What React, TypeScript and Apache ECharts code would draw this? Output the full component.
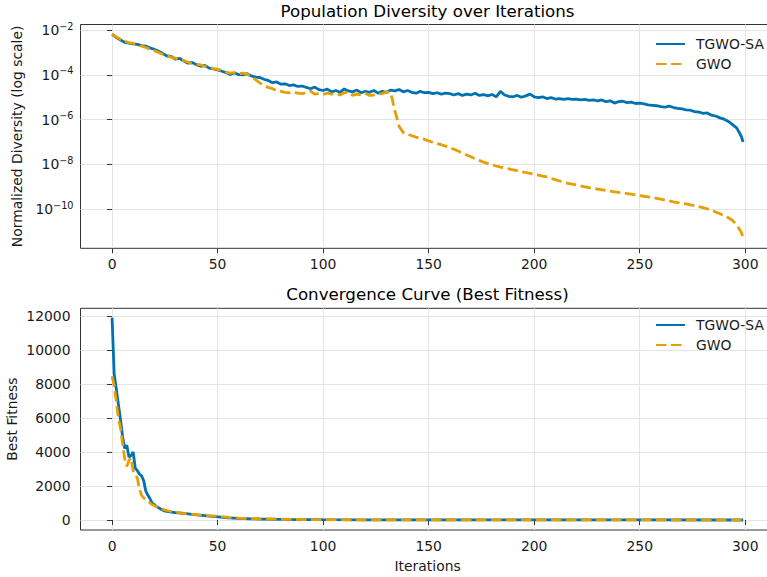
import React, { useEffect, useRef } from "react";
import * as echarts from "echarts";

// Iteration grid for the diversity curves (every 2nd iteration + last one)
const DIV_ITER: number[] = Array.from({ length: 150 }, (_, k) => 2 * k).concat([299]);

// log10 of normalized diversity
const tgwoDivLog10: number[] = [
  -2.19, -2.33, -2.45, -2.55, -2.58, -2.62, -2.64, -2.7, -2.72, -2.8,
  -2.86, -2.95, -3.04, -3.16, -3.18, -3.3, -3.27, -3.38, -3.48, -3.45,
  -3.55, -3.62, -3.58, -3.7, -3.74, -3.78, -3.84, -3.9, -3.98, -3.92,
  -3.99, -4.0, -3.95, -4.05, -4.1, -4.12, -4.2, -4.25, -4.35, -4.32,
  -4.42, -4.4, -4.48, -4.45, -4.52, -4.5, -4.56, -4.62, -4.55, -4.66,
  -4.7, -4.64, -4.76, -4.7, -4.78, -4.63, -4.72, -4.76, -4.68, -4.8,
  -4.74, -4.78, -4.7, -4.82, -4.74, -4.78, -4.68, -4.72, -4.66, -4.76,
  -4.7, -4.78, -4.82, -4.74, -4.8, -4.78, -4.84, -4.8, -4.86, -4.82,
  -4.84, -4.9, -4.84, -4.92, -4.86, -4.9, -4.82, -4.92, -4.88, -4.94,
  -4.88, -4.98, -4.74, -4.9, -4.96, -4.98, -4.92, -5.0, -4.94, -4.86,
  -4.98, -5.02, -4.98, -5.06, -5.02, -5.08, -5.06, -5.1, -5.06, -5.1,
  -5.08, -5.12, -5.1, -5.14, -5.12, -5.16, -5.12, -5.2, -5.16, -5.26,
  -5.2, -5.18, -5.24, -5.22, -5.28, -5.26, -5.3, -5.34, -5.36, -5.38,
  -5.42, -5.44, -5.4, -5.46, -5.5, -5.52, -5.56, -5.58, -5.64, -5.66,
  -5.72, -5.7, -5.8, -5.84, -5.92, -5.98, -6.08, -6.22, -6.38, -6.72,
  -7.0,
];

const gwoDivLog10: number[] = [
  -2.19, -2.3, -2.42, -2.5, -2.56, -2.6, -2.66, -2.72, -2.78, -2.86,
  -2.92, -3.0, -3.08, -3.12, -3.22, -3.26, -3.32, -3.36, -3.44, -3.5,
  -3.52, -3.56, -3.62, -3.66, -3.72, -3.76, -3.8, -3.88, -3.92, -3.9,
  -3.96, -3.92, -3.98, -4.06, -4.22, -4.36, -4.48, -4.56, -4.62, -4.7,
  -4.74, -4.78, -4.8, -4.78, -4.82, -4.84, -4.8, -4.72, -4.86, -4.84,
  -4.88, -4.82, -4.86, -4.84, -4.9, -4.8, -4.76, -4.92, -4.86, -4.9,
  -4.82, -4.92, -4.9, -4.86, -4.84, -4.76, -4.78, -5.6, -6.3, -6.58,
  -6.64, -6.72, -6.78, -6.83, -6.88, -6.95, -7.01, -7.07, -7.12, -7.18,
  -7.25, -7.32, -7.4, -7.5, -7.58, -7.66, -7.74, -7.82, -7.9, -7.96,
  -8.02, -8.07, -8.12, -8.16, -8.2, -8.24, -8.28, -8.32, -8.36, -8.4,
  -8.44, -8.48, -8.52, -8.56, -8.62, -8.68, -8.74, -8.8, -8.84, -8.88,
  -8.92, -8.96, -9.0, -9.04, -9.07, -9.1, -9.13, -9.16, -9.19, -9.22,
  -9.25, -9.27, -9.3, -9.33, -9.36, -9.39, -9.42, -9.45, -9.48, -9.51,
  -9.55, -9.59, -9.63, -9.67, -9.7, -9.73, -9.76, -9.8, -9.84, -9.88,
  -9.93, -9.98, -10.04, -10.12, -10.2, -10.28, -10.38, -10.5, -10.7, -11.0,
  -11.25,
];

// Convergence curve (best fitness)
const FIT_ITER: number[] = [
  0, 1, 2, 3, 4, 5, 6, 7, 8, 9, 10, 11, 12, 13, 14, 15, 16, 17, 18, 19, 20,
  21, 22, 23, 24, 25, 26, 27, 28, 29, 30, 35, 40, 45, 50, 55, 60, 65, 70, 80,
  90, 100, 120, 150, 200, 250, 299,
];
const tgwoFitness: number[] = [
  11900, 8600, 7700, 6800, 5900, 4900, 4200, 4400, 3700, 3800, 4000, 3050,
  2900, 2700, 2600, 2300, 1700, 1450, 1250, 1000, 900, 800, 730, 650, 580, 530,
  510, 490, 470, 450, 430, 370, 300, 240, 190, 130, 95, 75, 60, 40, 28, 20, 12,
  8, 5, 3, 2,
];
const gwoFitness: number[] = [
  8450, 7900, 7000, 6000, 5400, 4500, 3600, 3150, 3500, 3650, 2900, 2700, 2450,
  1800, 1450, 1300, 1200, 1100, 1000, 900, 850, 800, 760, 700, 640, 590, 560,
  530, 500, 470, 450, 380, 320, 260, 220, 150, 110, 80, 65, 45, 30, 22, 14, 9,
  6, 4, 3,
];

const X_TICKS = [0, 50, 100, 150, 200, 250, 300];
const DIV_TICKS = [1e-10, 1e-8, 1e-6, 1e-4, 1e-2];
const FIT_TICKS = [0, 2000, 4000, 6000, 8000, 10000, 12000];

const SERIES_NAMES = ["TGWO-SA", "GWO"];
const BLUE = "#0072B2";
const ORANGE = "#E69F00";
const FONT = "DejaVu Sans";
const TXT = "#1a1a1a";
const SPINE = "#333333";
const GRIDC = "#e4e4e4";

export default function App() {
  const ref = useRef<HTMLDivElement>(null);
  useEffect(() => {
    if (!ref.current) return;
    const chart = echarts.init(ref.current, null, { renderer: "svg" });

    const xAxisBase = (gridIndex: number, withName: boolean) => ({
      type: "value",
      gridIndex,
      min: -14.95,
      max: 313.95,
      axisLine: { show: false },
      axisTick: { show: true, length: 5, lineStyle: { color: SPINE, width: 1 }, customValues: X_TICKS },
      axisLabel: {
        show: true,
        customValues: X_TICKS,
        margin: 9,
        fontSize: 13.9,
        fontFamily: FONT,
        color: TXT,
        formatter: (v: number) => String(v),
      },
      splitLine: { show: true, lineStyle: { color: GRIDC, width: 1 } },
      name: withName ? "Iterations" : "",
      nameLocation: "middle",
      nameGap: 29,
      nameMoveOverlap: false,
      nameTextStyle: { fontSize: 13.9, fontFamily: FONT, color: TXT },
    });

    const supFormatter = (v: number) => {
      const e = Math.round(Math.log10(v));
      return `{b|10}{s|${e < 0 ? "\u2212" : ""}${Math.abs(e)}}`;
    };

    const legendBase = (top: number) => ({
      data: SERIES_NAMES,
      orient: "vertical",
      left: 655,
      top,
      padding: 0,
      itemWidth: 29,
      itemHeight: 14,
      itemGap: 6,
      selectedMode: false,
      itemStyle: { opacity: 0 },
      textStyle: { fontSize: 13.9, fontFamily: FONT, color: TXT, padding: [0, 0, 0, 6] },
    });

    const option: any = {
      animation: false,
      backgroundColor: "#ffffff",
      textStyle: { fontFamily: FONT },
      grid: [
        { left: 80.5, top: 24.5, width: 694.2, height: 223.8, show: true, borderColor: SPINE, borderWidth: 1, backgroundColor: "transparent", outerBoundsMode: "none", containLabel: false },
        { left: 80.5, top: 308.3, width: 694.2, height: 221.7, show: true, borderColor: SPINE, borderWidth: 1, backgroundColor: "transparent", outerBoundsMode: "none", containLabel: false },
      ],
      xAxis: [xAxisBase(0, false), xAxisBase(1, true)],
      yAxis: [
        {
          type: "log",
          logBase: 10,
          gridIndex: 0,
          min: Math.pow(10, -11.743),
          max: Math.pow(10, -1.754),
          axisLine: { show: false },
          axisTick: { show: true, length: 5, lineStyle: { color: SPINE, width: 1 }, customValues: DIV_TICKS },
          axisLabel: {
            show: true,
            customValues: DIV_TICKS,
            margin: 7,
            formatter: supFormatter,
            rich: {
              b: { fontSize: 13.9, fontFamily: FONT, color: TXT, lineHeight: 18 },
              s: { fontSize: 9.7, fontFamily: FONT, color: TXT, lineHeight: 13, verticalAlign: "top" },
            },
          },
          splitLine: { show: true, lineStyle: { color: GRIDC, width: 1 } },
          minorTick: { show: false },
          name: "Normalized Diversity (log scale)",
          nameLocation: "middle",
          nameGap: 57,
          nameMoveOverlap: false,
          nameTextStyle: { fontSize: 13.9, fontFamily: FONT, color: TXT },
        },
        {
          type: "value",
          gridIndex: 1,
          min: -587,
          max: 12446,
          axisLine: { show: false },
          axisTick: { show: true, length: 5, lineStyle: { color: SPINE, width: 1 }, customValues: FIT_TICKS },
          axisLabel: {
            show: true,
            customValues: FIT_TICKS,
            margin: 10,
            fontSize: 13.9,
            fontFamily: FONT,
            color: TXT,
            formatter: (v: number) => String(v),
          },
          splitLine: { show: true, lineStyle: { color: GRIDC, width: 1 } },
          name: "Best Fitness",
          nameLocation: "middle",
          nameGap: 62,
          nameMoveOverlap: false,
          nameTextStyle: { fontSize: 13.9, fontFamily: FONT, color: TXT },
        },
      ],
      legend: [legendBase(37), legendBase(318)],
      graphic: [
        {
          type: "text",
          x: 427.5,
          y: 11.5,
          style: { text: "Population Diversity over Iterations", fontSize: 16.67, fontFamily: FONT, fill: "#000", align: "center", verticalAlign: "middle" },
        },
        {
          type: "text",
          x: 427.5,
          y: 294,
          style: { text: "Convergence Curve (Best Fitness)", fontSize: 16.67, fontFamily: FONT, fill: "#000", align: "center", verticalAlign: "middle" },
        },
      ],
      series: [
        {
          name: SERIES_NAMES[0],
          type: "line",
          xAxisIndex: 0,
          yAxisIndex: 0,
          symbol: "none",
          showSymbol: false,
          data: DIV_ITER.map((x, k) => [x, Math.pow(10, tgwoDivLog10[k])]),
          lineStyle: { color: BLUE, width: 2.8 },
          itemStyle: { color: BLUE },
          z: 2,
        },
        {
          name: SERIES_NAMES[1],
          type: "line",
          xAxisIndex: 0,
          yAxisIndex: 0,
          symbol: "none",
          showSymbol: false,
          data: DIV_ITER.map((x, k) => [x, Math.pow(10, gwoDivLog10[k])]),
          lineStyle: { color: ORANGE, width: 2.8, type: [10.5, 4.5] },
          itemStyle: { color: ORANGE },
          z: 3,
        },
        {
          name: SERIES_NAMES[0],
          type: "line",
          xAxisIndex: 1,
          yAxisIndex: 1,
          symbol: "none",
          showSymbol: false,
          data: FIT_ITER.map((x, k) => [x, tgwoFitness[k]]),
          lineStyle: { color: BLUE, width: 2.8 },
          itemStyle: { color: BLUE },
          z: 2,
        },
        {
          name: SERIES_NAMES[1],
          type: "line",
          xAxisIndex: 1,
          yAxisIndex: 1,
          symbol: "none",
          showSymbol: false,
          data: FIT_ITER.map((x, k) => [x, gwoFitness[k]]),
          lineStyle: { color: ORANGE, width: 2.8, type: [10.5, 4.5] },
          itemStyle: { color: ORANGE },
          z: 3,
        },
      ],
    };

    chart.setOption(option);
    return () => chart.dispose();
  }, []);

  return (
    <div
      ref={ref}
      style={{ position: "absolute", left: 0, top: 0, width: 767, height: 577 }}
    />
  );
}
